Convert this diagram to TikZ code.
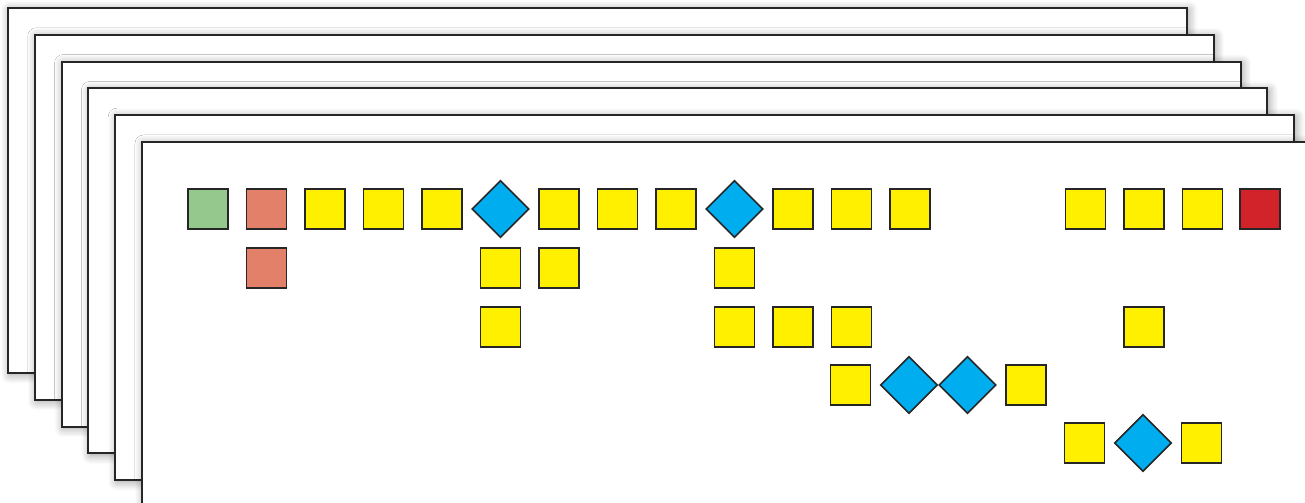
\documentclass[tikz,border=0pt]{standalone}
\usetikzlibrary{shadows.blur}
\definecolor{leafgreen}{RGB}{148,200,140}
\definecolor{salmon}{RGB}{227,128,106}
\definecolor{yel}{RGB}{255,240,0}
\definecolor{sky}{RGB}{0,174,239}
\definecolor{stop}{RGB}{210,35,42}
\tikzset{
  sheet/.style={draw=black!85, line width=0.04cm, fill=white,
    blur shadow={shadow xshift=1pt, shadow yshift=-1pt, shadow blur radius=5pt, shadow blur steps=8, shadow opacity=40}},
  sq/.style={draw=black!85, line width=0.03cm, minimum size=0.8cm, inner sep=0pt},
  dia/.style={sq, fill=sky, rotate=45}
}
\begin{document}
\begin{tikzpicture}[x=0.02cm, y=-0.02cm]
	\useasboundingbox (0,0) rectangle (1305,503);
	\clip (0,0) rectangle (1305,503);

	%	Stack of sheets, back to front
	\foreach \i in {0,...,5}
		\draw[sheet] ({8+26.8*\i},{8+26.8*\i}) rectangle ++(1179,365);

	%	Row 1
	\node[sq, fill=leafgreen] (r1c0) at (208,209) {};
	\node[sq, fill=salmon] (r1c1) at (266.5,209) {};
	\foreach \c in {2,3,4,6,7,8,10,11,12,15,16,17}
		\node[sq, fill=yel] (r1c\c) at ({208+58.5*\c},209) {};
	\node[dia] (r1c5) at (500.5,209) {};
	\node[dia] (r1c9) at (734.5,209) {};
	\node[sq, fill=stop] (r1c18) at (1260,209) {};

	%	Row 2
	\node[sq, fill=salmon] (r2c1) at (266.5,268) {};
	\foreach \c in {5,6,9}
		\node[sq, fill=yel] (r2c\c) at ({208+58.5*\c},268) {};

	%	Row 3
	\foreach \c in {5,9,10,11,16}
		\node[sq, fill=yel] (r3c\c) at ({208+58.5*\c},327) {};

	%	Row 4
	\node[sq, fill=yel] (r4c11) at (850.5,385) {};
	\node[dia] (r4c12) at (909,385) {};
	\node[dia] (r4c13) at (967.5,385) {};
	\node[sq, fill=yel] (r4c14) at (1026,385) {};

	%	Row 5
	\node[sq, fill=yel] (r5c15) at (1084.5,443) {};
	\node[dia] (r5c16) at (1143,443) {};
	\node[sq, fill=yel] (r5c17) at (1201.5,443) {};
\end{tikzpicture}
\end{document}
